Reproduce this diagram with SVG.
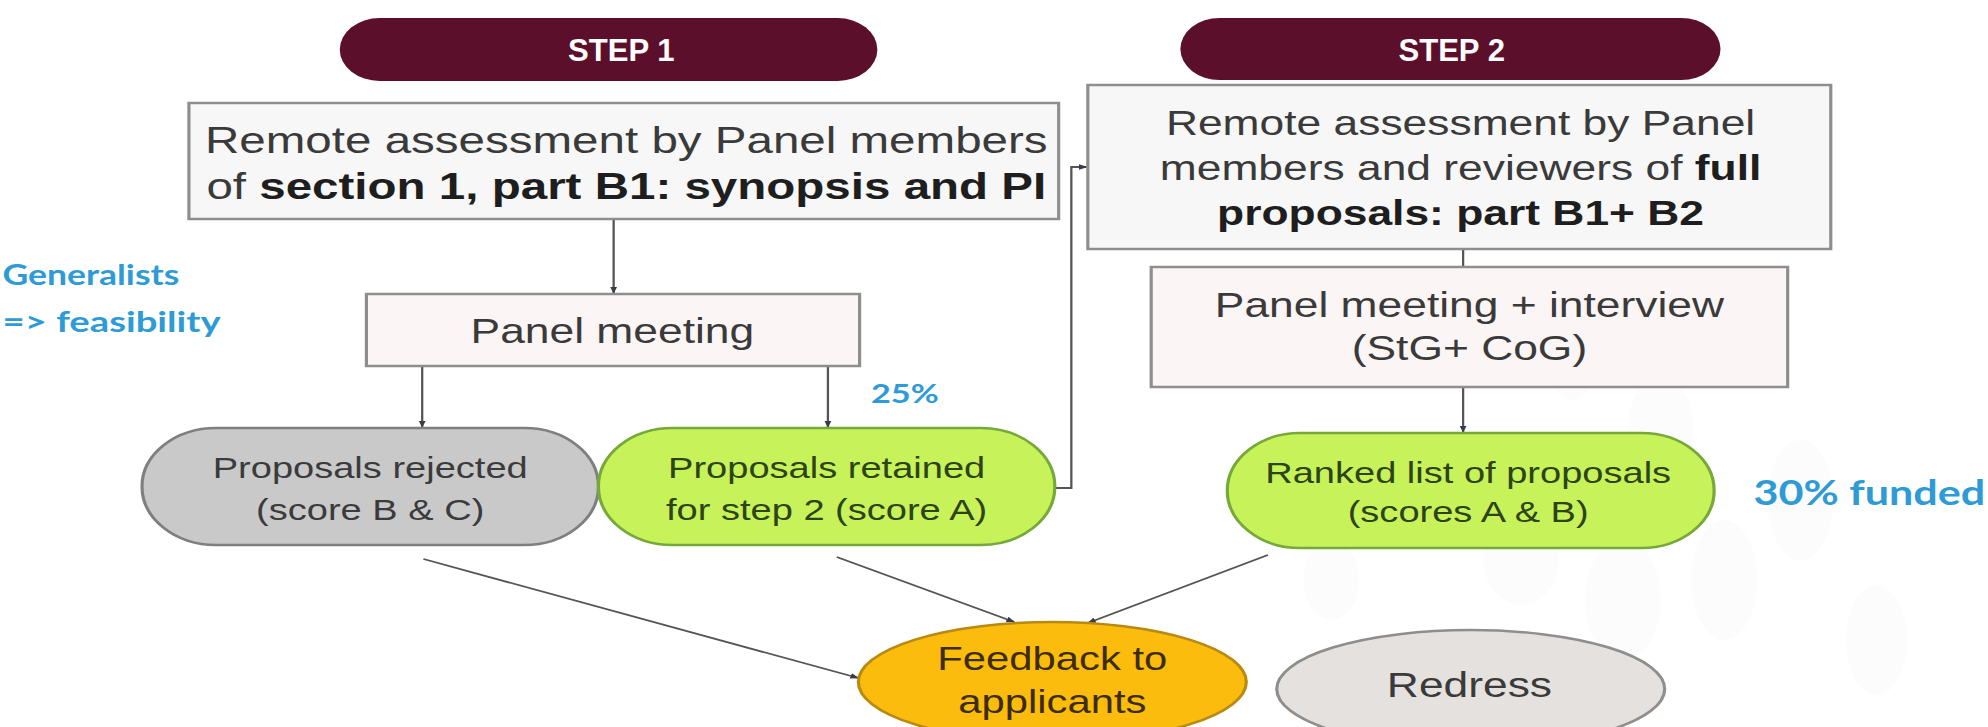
<svg xmlns="http://www.w3.org/2000/svg" width="1988" height="727" viewBox="0 0 1988 727">
<defs>
<marker id="ah" viewBox="0 0 10 10" refX="9" refY="5" markerWidth="7" markerHeight="7" orient="auto" markerUnits="userSpaceOnUse">
<path d="M0,1 L10,5 L0,9 z" fill="#3a3a4a"/>
</marker>
</defs>
<style>
.t{font-family:"Liberation Sans",Arial,sans-serif;text-anchor:middle;}
.box{fill:#f7f7f7;stroke:#8e8e8e;stroke-width:2.5;}
.pbox{fill:#fcf5f5;stroke:#8e8e8e;stroke-width:2.5;}
.pill{fill:#5b0f2b;}
.st{fill:#ffffff;font-weight:bold;font-size:31px;}
.bt{fill:#3a3a3a;font-size:35px;}
.bta{fill:#3a3a3a;font-size:37.5px;}
.b{font-weight:bold;fill:#1e1e1e;}
.gray{fill:#c9c9c9;stroke:#7f7f7f;stroke-width:2.5;}
.green{fill:#c8f25a;stroke:#76a83a;stroke-width:2.5;}
.gt{fill:#2c4417;font-size:30px;}
.grt{fill:#3b3b3b;font-size:30px;}
.blue{font-family:Lato,"Open Sans","Liberation Sans",sans-serif;fill:#2e9bd6;font-weight:bold;}
.c{fill:none;stroke:#555;stroke-width:1.8;}
.blob{fill:#c4b0b0;opacity:0.035;}
.fb{fill:#3d2c00;font-size:33px;}
</style>
<rect x="0" y="0" width="1988" height="727" fill="#ffffff"/>
<g transform="scale(1.26786,1)">
<g id="decor">
<ellipse class="blob" cx="1070" cy="330" rx="14" ry="24"/>
<ellipse class="blob" cx="1240" cy="360" rx="20" ry="40"/>
<ellipse class="blob" cx="1310" cy="430" rx="26" ry="55"/>
<ellipse class="blob" cx="1200" cy="560" rx="30" ry="45"/>
<ellipse class="blob" cx="1280" cy="600" rx="30" ry="60"/>
<ellipse class="blob" cx="1360" cy="580" rx="26" ry="60"/>
<ellipse class="blob" cx="1420" cy="500" rx="26" ry="60"/>
<ellipse class="blob" cx="1480" cy="640" rx="24" ry="55"/>
<ellipse class="blob" cx="1050" cy="580" rx="22" ry="40"/>
</g>
<g id="step1">
<rect class="pill" x="268" y="18" width="424" height="63" rx="31.5"/>
<text class="t st" x="490" y="61" textLength="84" lengthAdjust="spacingAndGlyphs">STEP 1</text>
</g>
<g id="step2">
<rect class="pill" x="931" y="18" width="426" height="62" rx="31"/>
<text class="t st" x="1145" y="61" textLength="84" lengthAdjust="spacingAndGlyphs">STEP 2</text>
</g>
<g id="connectors">
<line class="c" x1="484" y1="219" x2="484" y2="293" marker-end="url(#ah)"/>
<line class="c" x1="333" y1="366" x2="333" y2="427" marker-end="url(#ah)"/>
<line class="c" x1="653" y1="366" x2="653" y2="427" marker-end="url(#ah)"/>
<polyline class="c" points="832,488 845,488 845,167 857,167" marker-end="url(#ah)"/>
<line class="c" x1="1154" y1="249" x2="1154" y2="267"/>
<line class="c" x1="1154" y1="387" x2="1154" y2="432" marker-end="url(#ah)"/>
<line class="c" x1="334" y1="559" x2="677" y2="678" marker-end="url(#ah)"/>
<line class="c" x1="660" y1="557" x2="800" y2="622" marker-end="url(#ah)"/>
<line class="c" x1="1000" y1="555" x2="858" y2="623" marker-end="url(#ah)"/>
</g>
<g id="boxA">
<rect class="box" x="149" y="103" width="686" height="116"/>
<text class="t bta" x="494" y="153">Remote assessment by Panel members</text>
<text class="t bta" x="494" y="199">of <tspan class="b">section 1, part B1: synopsis and PI</tspan></text>
</g>
<g id="boxB">
<rect class="pbox" x="289" y="294" width="389" height="72"/>
<text class="t bt" x="483" y="343">Panel meeting</text>
</g>
<g id="boxC">
<rect class="box" x="858" y="85" width="586" height="164"/>
<text class="t bt" x="1152" y="135">Remote assessment by Panel</text>
<text class="t bt" x="1152" y="180">members and reviewers of <tspan class="b">full</tspan></text>
<text class="t bt b" x="1152" y="225">proposals: part B1+ B2</text>
</g>
<g id="boxD">
<rect class="pbox" x="908" y="267" width="502" height="120"/>
<text class="t bt" x="1159" y="317">Panel meeting + interview</text>
<text class="t bt" x="1159" y="360">(StG+ CoG)</text>
</g>
<g id="rejected">
<rect class="gray" x="112" y="428" width="360" height="117" rx="58.5"/>
<text class="t grt" x="292" y="478">Proposals rejected</text>
<text class="t grt" x="292" y="520">(score B &amp; C)</text>
</g>
<g id="retained">
<rect class="green" x="472" y="428" width="360" height="117" rx="58.5"/>
<text class="t gt" x="652" y="478">Proposals retained</text>
<text class="t gt" x="652" y="520">for step 2 (score A)</text>
</g>
<g id="ranked">
<rect class="green" x="968" y="433" width="384" height="115" rx="57.5"/>
<text class="t gt" x="1158" y="483" font-size="27">Ranked list of proposals</text>
<text class="t gt" x="1158" y="522" font-size="27">(scores A &amp; B)</text>
</g>
<g id="feedback">
<ellipse cx="830" cy="682" rx="153" ry="60" fill="#fbbc0e" stroke="#b98a12" stroke-width="2.5"/>
<text class="t fb" x="830" y="670">Feedback to</text>
<text class="t fb" x="830" y="713">applicants</text>
</g>
<g id="redress">
<ellipse cx="1160" cy="689" rx="153" ry="59" fill="#e5e1df" stroke="#8e8e8e" stroke-width="2.5"/>
<text class="t" x="1159" y="697" font-size="35" fill="#3a3a3a">Redress</text>
</g>
<g id="labels">
<text class="blue" x="2" y="285" font-size="28">Generalists</text>
<text class="blue" x="2" y="332" font-size="28" textLength="172" lengthAdjust="spacingAndGlyphs">=&gt; feasibility</text>
<text class="blue" x="687" y="403" font-size="27">25%</text>
<text class="blue" x="1383" y="505" font-size="34">30% funded</text>
</g>
</g>
</svg>
